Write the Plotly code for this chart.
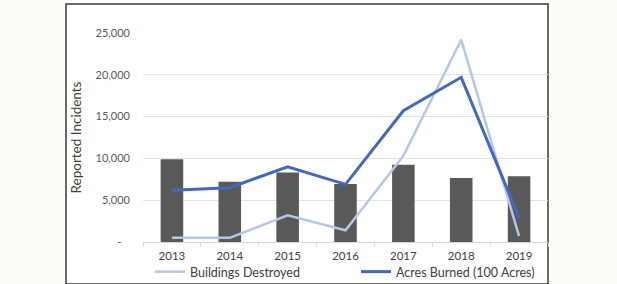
import plotly.graph_objects as go

years = ["2013", "2014", "2015", "2016", "2017", "2018", "2019"]
incidents = [9900, 7200, 8300, 6950, 9250, 7650, 7850]
buildings_destroyed = [500, 500, 3200, 1400, 10300, 24200, 700]
acres_burned_100 = [6200, 6500, 9000, 6900, 15700, 19700, 2900]
y_tickvals = [0, 5000, 10000, 15000, 20000, 25000]
y_ticktext = ["-   ", "5,000", "10,000", "15,000", "20,000", "25,000"]

W, H = 617, 284
ML, MR, MT, MB = 143, 69, 33, 42
PW = W - ML - MR
PH = H - MT - MB

def px_x(p):
    return (p - ML) / PW

def px_y(p):
    return (H - MB - p) / PH

fig = go.Figure()
fig.add_trace(go.Bar(x=years, y=incidents, marker=dict(color="#595959", line=dict(width=0)),
                     showlegend=False, name="Incidents"))
fig.add_trace(go.Scatter(x=years, y=buildings_destroyed, mode="lines", name="Buildings Destroyed",
                         line=dict(color="#b4c7e7", width=2.5), cliponaxis=False, legend="legend"))
fig.add_trace(go.Scatter(x=years, y=acres_burned_100, mode="lines", name="Acres Burned (100 Acres)",
                         line=dict(color="#4069c0", width=3), cliponaxis=False, legend="legend2"))

# chart frame
fig.add_shape(type="rect", xref="paper", yref="paper",
              x0=px_x(66), x1=px_x(548), y0=px_y(284), y1=px_y(4),
              line=dict(color="#3a3a3a", width=1.5), fillcolor="white", layer="below")

legend_common = dict(orientation="h", yanchor="middle", y=px_y(272), xanchor="left",
                     font=dict(size=12.5, color="#404040"), bgcolor="rgba(0,0,0,0)", itemwidth=30)

fig.update_layout(
    width=W, height=H,
    margin=dict(l=ML, r=MR, t=MT, b=MB, pad=0, autoexpand=False),
    paper_bgcolor="#fdfcf8",
    plot_bgcolor="rgba(0,0,0,0)",
    bargap=0.61,
    font=dict(family="Lato, Open Sans, sans-serif", color="#595959", size=11),
    showlegend=True,
    legend=dict(x=px_x(150), **legend_common),
    legend2=dict(x=px_x(356), **legend_common),
    xaxis=dict(showgrid=False, showline=True, linecolor="#d9d9d9", linewidth=1,
               ticks="outside", tickson="boundaries", ticklen=4, tickcolor="#d9d9d9",
               tickfont=dict(size=11.5, color="#404040"), ticklabelstandoff=3, fixedrange=True),
    yaxis=dict(range=[0, 25000], tickvals=y_tickvals, ticktext=y_ticktext,
               showgrid=True, gridcolor="#e3e3e3", gridwidth=1, zeroline=False,
               tickfont=dict(size=11, color="#595959"), ticklabelstandoff=12,
               title=dict(text="Reported Incidents", font=dict(size=13.5, color="#404040"), standoff=10)),
)

fig.write_html("out.html")
